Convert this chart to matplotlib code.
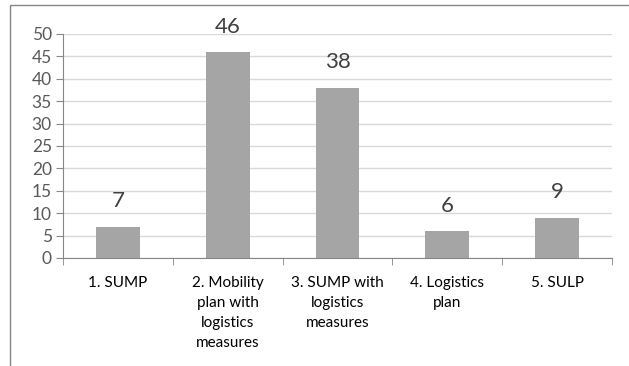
import matplotlib
matplotlib.use("Agg")
import matplotlib.pyplot as plt
from matplotlib.patches import Rectangle

categories = ["1. SUMP", "2. Mobility\nplan with\nlogistics\nmeasures",
              "3. SUMP with\nlogistics\nmeasures", "4. Logistics\nplan", "5. SULP"]
values = [7, 46, 38, 6, 9]
y_ticks = [0, 5, 10, 15, 20, 25, 30, 35, 40, 45, 50]

plt.rcParams["font.family"] = ["Lato", "DejaVu Sans"]

fig = plt.figure(figsize=(6.29, 3.66), dpi=100)
fig.patches.append(Rectangle((10 / 629, -0.1), 1.0, (361 / 366) + 0.1,
                             transform=fig.transFigure, fill=False,
                             edgecolor="#868686", linewidth=1.0))

ax = fig.add_axes([63 / 629, 108 / 366, 549 / 629, 224 / 366])
x = range(len(values))
ax.bar(x, values, width=0.4, color="#a5a5a5", zorder=2)
for xi, v in zip(x, values):
    ax.annotate(str(v), (xi, v), xytext=(0, 11), textcoords="offset points",
                ha="center", va="bottom", fontsize=16, color="#404040")

ax.set_xlim(-0.5, len(values) - 0.5)
ax.set_ylim(0, 50)
ax.set_yticks(y_ticks)
ax.set_xticks(list(x))
ax.set_xticklabels(categories, fontsize=11, color="black", linespacing=1.55)
ax.set_xticks([i - 0.5 for i in range(len(values) + 1)], minor=True)
ax.tick_params(axis="x", which="major", length=0, pad=13)
ax.tick_params(axis="x", which="minor", length=5, color="#868686", direction="out")
ax.tick_params(axis="y", length=5, color="#868686", labelsize=12.5,
               labelcolor="#595959", pad=3)
ax.grid(axis="y", color="#d9d9d9", linewidth=1, zorder=0)
for s in ["top", "right"]:
    ax.spines[s].set_visible(False)
ax.spines["left"].set_color("#868686")
ax.spines["bottom"].set_color("#868686")

fig.savefig("out.png", dpi=100)
